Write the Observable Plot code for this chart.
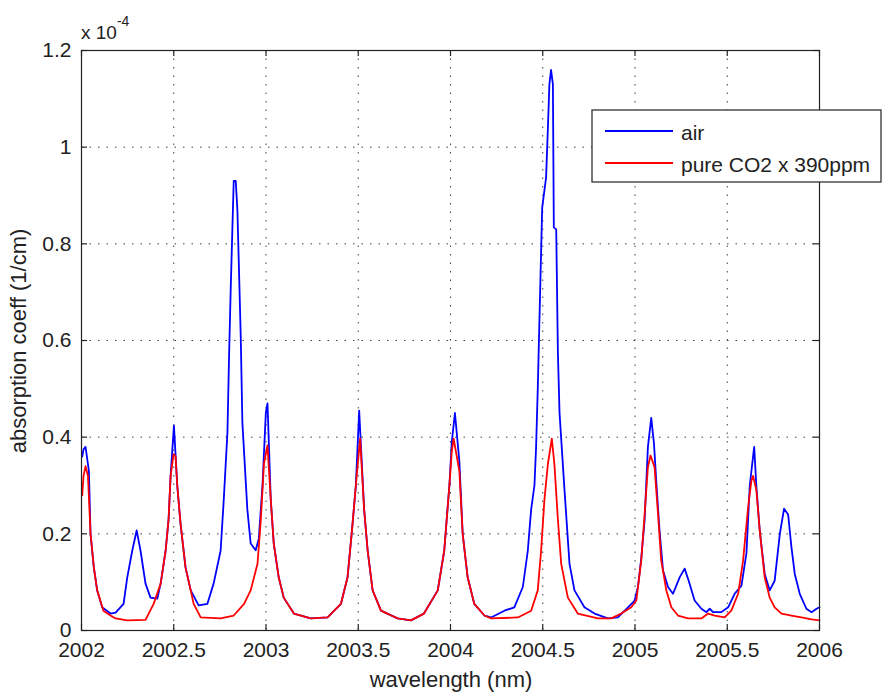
<!DOCTYPE html>
<html><head><meta charset="utf-8">
<script src="https://cdn.jsdelivr.net/npm/d3@7"></script>
<script src="https://cdn.jsdelivr.net/npm/@observablehq/plot@0.6"></script>
<style>body{margin:0;background:#fff} svg{display:block}</style>
</head><body><div id="chart"></div>
<script>
// wavelength (nm), absorption coeff (x 1e-4 1/cm)
const air = [[2002.004,0.36],[2002.011,0.375],[2002.022,0.38],[2002.040,0.33],[2002.049,0.20],[2002.067,0.13],[2002.085,0.083],[2002.112,0.048],[2002.157,0.035],[2002.185,0.037],[2002.228,0.055],[2002.248,0.11],[2002.275,0.165],[2002.299,0.207],[2002.320,0.165],[2002.347,0.097],[2002.374,0.068],[2002.411,0.066],[2002.429,0.097],[2002.456,0.165],[2002.472,0.23],[2002.483,0.32],[2002.501,0.424],[2002.519,0.30],[2002.537,0.22],[2002.564,0.13],[2002.592,0.083],[2002.635,0.052],[2002.682,0.055],[2002.716,0.097],[2002.754,0.165],[2002.771,0.27],[2002.791,0.41],[2002.800,0.57],[2002.809,0.71],[2002.825,0.93],[2002.836,0.93],[2002.845,0.87],[2002.854,0.74],[2002.863,0.61],[2002.872,0.43],[2002.899,0.25],[2002.917,0.18],[2002.944,0.166],[2002.961,0.19],[2002.981,0.30],[2002.999,0.45],[2003.008,0.47],[2003.026,0.27],[2003.042,0.18],[2003.069,0.11],[2003.096,0.068],[2003.151,0.035],[2003.243,0.025],[2003.334,0.027],[2003.406,0.055],[2003.442,0.11],[2003.469,0.22],[2003.487,0.30],[2003.505,0.455],[2003.532,0.25],[2003.551,0.165],[2003.578,0.083],[2003.623,0.041],[2003.713,0.025],[2003.786,0.021],[2003.856,0.035],[2003.931,0.083],[2003.966,0.165],[2003.994,0.30],[2004.007,0.39],[2004.024,0.45],[2004.048,0.35],[2004.066,0.20],[2004.093,0.11],[2004.129,0.055],[2004.184,0.031],[2004.220,0.027],[2004.292,0.041],[2004.346,0.048],[2004.392,0.09],[2004.419,0.165],[2004.437,0.25],[2004.455,0.30],[2004.464,0.38],[2004.473,0.50],[2004.487,0.72],[2004.497,0.875],[2004.518,0.937],[2004.528,1.04],[2004.536,1.13],[2004.545,1.16],[2004.555,1.13],[2004.560,0.834],[2004.573,0.83],[2004.582,0.575],[2004.591,0.45],[2004.618,0.29],[2004.645,0.138],[2004.672,0.083],[2004.726,0.048],[2004.781,0.035],[2004.853,0.025],[2004.907,0.027],[2004.962,0.048],[2004.998,0.062],[2005.016,0.09],[2005.034,0.15],[2005.052,0.228],[2005.070,0.38],[2005.088,0.44],[2005.103,0.386],[2005.115,0.31],[2005.133,0.207],[2005.152,0.124],[2005.179,0.09],[2005.206,0.076],[2005.242,0.11],[2005.269,0.128],[2005.291,0.103],[2005.323,0.062],[2005.360,0.045],[2005.387,0.038],[2005.405,0.045],[2005.423,0.038],[2005.468,0.038],[2005.505,0.048],[2005.540,0.076],[2005.577,0.093],[2005.604,0.16],[2005.622,0.30],[2005.646,0.38],[2005.658,0.297],[2005.676,0.207],[2005.703,0.117],[2005.730,0.083],[2005.757,0.103],[2005.785,0.20],[2005.808,0.252],[2005.830,0.24],[2005.848,0.172],[2005.866,0.117],[2005.893,0.076],[2005.929,0.045],[2005.957,0.038],[2005.984,0.045],[2006.000,0.048]];

const co2 = [[2002.004,0.28],[2002.011,0.32],[2002.022,0.34],[2002.035,0.32],[2002.049,0.20],[2002.067,0.13],[2002.085,0.083],[2002.119,0.041],[2002.157,0.031],[2002.185,0.025],[2002.248,0.021],[2002.347,0.022],[2002.391,0.055],[2002.429,0.097],[2002.456,0.165],[2002.472,0.23],[2002.483,0.32],[2002.499,0.365],[2002.510,0.36],[2002.519,0.30],[2002.537,0.22],[2002.564,0.13],[2002.592,0.083],[2002.608,0.055],[2002.646,0.027],[2002.754,0.025],[2002.825,0.031],[2002.881,0.055],[2002.917,0.083],[2002.954,0.138],[2002.972,0.23],[2002.989,0.345],[2003.008,0.383],[2003.026,0.27],[2003.042,0.18],[2003.069,0.11],[2003.096,0.068],[2003.151,0.035],[2003.243,0.025],[2003.334,0.027],[2003.406,0.055],[2003.442,0.11],[2003.469,0.22],[2003.487,0.30],[2003.510,0.397],[2003.532,0.25],[2003.551,0.165],[2003.578,0.083],[2003.623,0.041],[2003.713,0.025],[2003.786,0.021],[2003.856,0.035],[2003.931,0.083],[2003.966,0.165],[2003.994,0.30],[2004.007,0.37],[2004.017,0.397],[2004.048,0.33],[2004.066,0.20],[2004.093,0.11],[2004.129,0.055],[2004.184,0.031],[2004.220,0.025],[2004.365,0.027],[2004.437,0.041],[2004.473,0.083],[2004.491,0.165],[2004.509,0.27],[2004.528,0.345],[2004.549,0.397],[2004.563,0.345],[2004.582,0.23],[2004.600,0.138],[2004.636,0.068],[2004.690,0.035],[2004.799,0.025],[2004.871,0.025],[2004.925,0.035],[2004.980,0.048],[2005.007,0.062],[2005.034,0.145],[2005.052,0.24],[2005.070,0.338],[2005.084,0.362],[2005.106,0.338],[2005.125,0.24],[2005.142,0.145],[2005.170,0.083],[2005.197,0.048],[2005.233,0.031],[2005.287,0.025],[2005.360,0.025],[2005.396,0.035],[2005.432,0.031],[2005.486,0.027],[2005.522,0.041],[2005.559,0.076],[2005.586,0.145],[2005.613,0.255],[2005.631,0.31],[2005.640,0.32],[2005.658,0.29],[2005.676,0.207],[2005.703,0.11],[2005.730,0.068],[2005.757,0.048],[2005.794,0.035],[2005.848,0.031],[2005.902,0.027],[2005.957,0.023],[2006.000,0.021]];

const seriesNames = ["air", "pure CO2 x 390ppm"];
const seriesColors = ["#0000ff", "#ff0000"];
const xTicks = [2002, 2002.5, 2003, 2003.5, 2004, 2004.5, 2005, 2005.5, 2006];
const xTickLabels = ["2002", "2002.5", "2003", "2003.5", "2004", "2004.5", "2005", "2005.5", "2006"];
const yTicks = [0, 0.2, 0.4, 0.6, 0.8, 1, 1.2];
const yTickLabels = ["0", "0.2", "0.4", "0.6", "0.8", "1", "1.2"];
const xTitle = "wavelength (nm)";
const yTitle = "absorption coeff (1/cm)";
const yExponent = "-4";

const font = "'Liberation Sans', Arial, Helvetica, sans-serif";
const ink = "#222";
const W = 883, H = 692, mL = 81, mR = 64, mT = 50, mB = 62;
const innerW = W - mL - mR, innerH = H - mT - mB, tick = 6;
const grid = {stroke: "#000", strokeOpacity: 0.75, strokeDasharray: "1.5,7", strokeWidth: 1};

const chart = Plot.plot({
  width: W, height: H,
  marginLeft: mL, marginRight: mR, marginTop: mT, marginBottom: mB,
  style: {fontFamily: font, background: "#fff", color: ink, overflow: "visible"},
  x: {domain: [2002, 2006], label: null},
  y: {domain: [0, 1.2], label: null},
  marks: [
    Plot.gridX(xTicks, grid),
    Plot.gridY(yTicks, grid),
    Plot.line(air, {x: d => d[0], y: d => d[1], stroke: seriesColors[0], strokeWidth: 1.8}),
    Plot.line(co2, {x: d => d[0], y: d => d[1], stroke: seriesColors[1], strokeWidth: 1.8}),
    // inward tick marks on all four sides
    Plot.tickX(xTicks, {x: d => d, stroke: ink, strokeWidth: 1.2, insetTop: innerH - tick}),
    Plot.tickX(xTicks, {x: d => d, stroke: ink, strokeWidth: 1.2, insetBottom: innerH - tick}),
    Plot.tickY(yTicks, {y: d => d, stroke: ink, strokeWidth: 1.2, insetRight: innerW - tick}),
    Plot.tickY(yTicks, {y: d => d, stroke: ink, strokeWidth: 1.2, insetLeft: innerW - tick}),
    Plot.frame({stroke: ink, strokeWidth: 1.2}),
    Plot.axisX(xTicks, {anchor: "bottom", tickSize: 0, tickPadding: 12, fontSize: 21, label: null,
      tickFormat: d => xTickLabels[xTicks.indexOf(d)]}),
    Plot.axisY(yTicks, {anchor: "left", tickSize: 0, tickPadding: 10, fontSize: 21, label: null,
      tickFormat: d => yTickLabels[yTicks.indexOf(d)]})
  ]
});

const svg = d3.select(chart);
// axis titles
svg.append("text").attr("x", 451).attr("y", 687).attr("text-anchor", "middle")
  .attr("font-size", 22).attr("font-family", font).attr("fill", ink).text(xTitle);
svg.append("text").attr("transform", "translate(26,341) rotate(-90)").attr("text-anchor", "middle")
  .attr("font-size", 22).attr("font-family", font).attr("fill", ink).text(yTitle);
// exponent
const ex = svg.append("text").attr("x", 81).attr("y", 39).attr("font-size", 19)
  .attr("text-anchor", "start").attr("font-family", font).attr("fill", ink);
ex.append("tspan").text("x 10");
ex.append("tspan").attr("font-size", 14).attr("dy", -13).text(yExponent);
// legend
const lg = svg.append("g").attr("text-anchor", "start");
lg.append("rect").attr("x", 592).attr("y", 110).attr("width", 289).attr("height", 72)
  .attr("fill", "#fff").attr("stroke", ink).attr("stroke-width", 1.2);
seriesNames.forEach((name, i) => {
  const cy = 131 + i * 32;
  lg.append("line").attr("x1", 605).attr("x2", 673).attr("y1", cy).attr("y2", cy)
    .attr("stroke", seriesColors[i]).attr("stroke-width", 1.8);
  lg.append("text").attr("x", 681).attr("y", cy + 9).attr("font-size", 21)
    .attr("text-anchor", "start").attr("font-family", font).attr("fill", ink).text(name);
});

document.getElementById("chart").appendChild(chart);
</script>
</body></html>
